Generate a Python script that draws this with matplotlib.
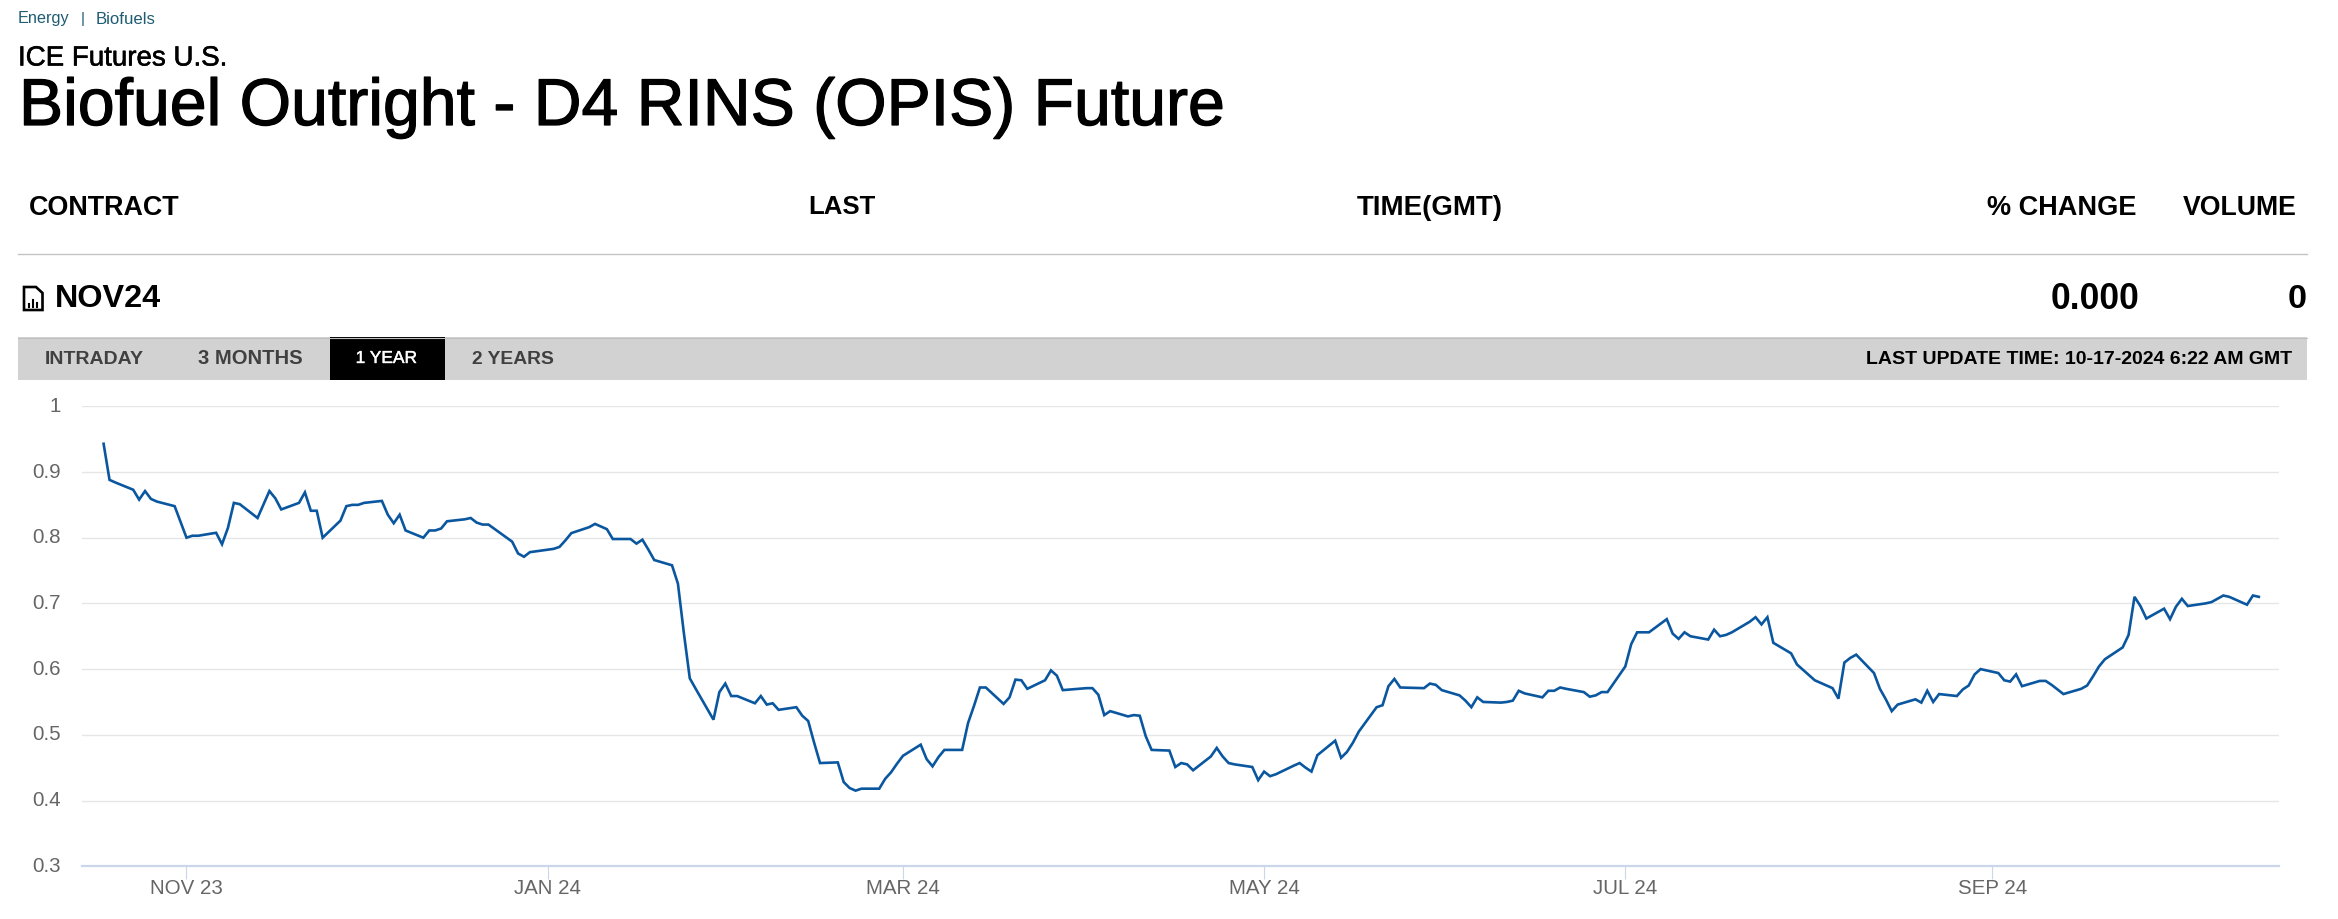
import matplotlib
matplotlib.use("Agg")
import matplotlib.pyplot as plt
import matplotlib.dates as mdates
import matplotlib.patheffects as pe
import matplotlib.transforms as mtrans
import pandas as pd
from matplotlib.patches import Rectangle, Polygon
from matplotlib.lines import Line2D

W, H = 2338, 919
START = "2023-10-18"
days = [0,1,2,5,6,7,8,9,12,13,14,15,16,19,20,21,22,23,26,28,29,30,33,34,35,36,37,40,41,42,43,44,47,48,49,50,51,54,55,56,57,58,61,
        62,63,64,65,69,70,71,72,76,77,78,79,82,83,84,85,86,89,90,91,92,93,96,97,98,99,100,103,104,105,106,107,110,111,112,113,114,117,118,119,120,121,
        124,125,126,127,128,131,132,133,134,135,138,139,140,141,142,145,146,147,148,149,152,153,154,155,156,159,160,161,162,166,167,168,169,170,173,174,175,176,177,180,181,182,183,184,
        187,188,189,190,191,194,195,196,197,198,201,202,203,204,205,208,209,210,211,212,215,216,217,218,219,223,224,225,226,229,230,231,232,233,236,237,238,239,240,243,244,245,246,247,
        250,251,252,253,254,257,258,259,260,261,264,265,266,267,268,271,272,273,274,275,278,279,280,281,282,285,286,287,288,289,292,293,294,295,296,299,300,301,302,303,306,307,308,309,310,
        313,314,315,316,317,320,321,322,323,324,327,328,329,330,331,334,335,336,337,338,341,342,343,344,345,348,349,350,351,352,355,356,357,358,359,362,363,364]
prices = [.943,.888,.884,.873,.858,.871,.859,.855,.848,.824,.800,.803,.803,.8075,.790,.815,.853,.851,.830,.871,.860,.843,.853,.869,.841,.841,.800,.826,.848,.850,.850,.853,.856,.835,.822,.835,.811,.800,.811,.811,.814,.825,.828,
          .830,.823,.820,.820,.794,.776,.771,.778,.783,.786,.796,.807,.816,.821,.817,.813,.798,.798,.791,.797,.782,.766,.758,.730,.655,.586,.570,.523,.565,.578,.559,.559,.548,.559,.546,.548,.538,.542,.529,.521,.488,.457,
          .458,.428,.419,.415,.418,.418,.433,.443,.456,.468,.485,.463,.452,.466,.477,.477,.518,.544,.572,.572,.547,.557,.584,.583,.570,.583,.598,.590,.568,.571,.571,.561,.530,.536,.528,.530,.529,.498,.477,.476,.451,.457,.455,.446,
          .467,.480,.467,.457,.455,.451,.431,.444,.437,.440,.453,.457,.450,.444,.469,.491,.465,.474,.488,.505,.542,.545,.574,.585,.572,.571,.578,.576,.568,.560,.552,.542,.557,.550,.549,.550,.552,.567,.563,.557,.567,.567,.572,.570,
          .565,.558,.560,.565,.565,.604,.638,.656,.656,.656,.676,.654,.646,.656,.650,.645,.660,.650,.652,.656,.672,.679,.668,.679,.640,.624,.607,.599,.591,.583,.571,.555,.610,.617,.622,.594,.570,.554,.536,.546,.554,.549,.567,.550,.562,
          .559,.569,.575,.592,.600,.594,.583,.581,.592,.574,.582,.582,.576,.569,.562,.570,.575,.589,.604,.615,.633,.652,.710,.696,.677,.692,.676,.695,.707,.696,.700,.702,.707,.712,.710,.698,.712,.710]
y_ticks = [0.3,0.4,0.5,0.6,0.7,0.8,0.9,1.0]
y_tick_labels = ["0.3","0.4","0.5","0.6","0.7","0.8","0.9","1"]
x_tick_dates = ["2023-11-01","2024-01-01","2024-03-01","2024-05-01","2024-07-01","2024-09-01"]
x_tick_labels = ["NOV 23","JAN 24","MAR 24","MAY 24","JUL 24","SEP 24"]

plt.rcParams["font.family"] = ["Liberation Sans", "DejaVu Sans"]
fig = plt.figure(figsize=(W/100, H/100), dpi=100, facecolor="white")
fx = lambda x: x / W
fy = lambda y: 1 - y / H

L, R, T, B = 82, 2279, 406.3, 866.2
ax = fig.add_axes([fx(L), fy(B), (R-L)/W, (B-T)/H])
dates = pd.Timestamp(START) + pd.to_timedelta(days, unit="D")
x_num = mdates.date2num(dates)
ax.plot(x_num, prices, color="#0a57a0", lw=1.9, solid_joinstyle="miter", clip_on=False, zorder=3)
ppd = 5.921
x0 = mdates.date2num(pd.Timestamp(START))
ax.set_xlim(x0 + (L-103.6)/ppd, x0 + (R-103.6)/ppd)
ax.set_ylim(0.3, 1.0)
ax.set_yticks(y_ticks, y_tick_labels)
ax.set_xticks(mdates.date2num(pd.to_datetime(x_tick_dates)), x_tick_labels)
for s in ["top","left","right"]:
    ax.spines[s].set_visible(False)
ax.spines["bottom"].set_color("#ccd6eb")
ax.spines["bottom"].set_linewidth(1.6)
ax.grid(axis="y", color="#e6e6e6", lw=1.0)
ax.set_axisbelow(True)
ax.tick_params(axis="y", length=0, pad=15, labelsize=14.8, labelcolor="#666666")
ax.tick_params(axis="x", length=9, width=0.8, color="#ccd6eb", pad=0, labelsize=14.8, labelcolor="#666666")
lift = mtrans.Affine2D().translate(0, 2)
for t in ax.get_yticklabels():
    t.set_transform(t.get_transform() + lift)

fig.canvas.draw()
rend = fig.canvas.get_renderer()

def fit(s, x1, x2, yc, color="black", weight="normal", base=14, stroke=0):
    t = fig.text(fx(x1), fy(yc), s, color=color, weight=weight, fontsize=base, ha="left", va="center_baseline")
    for _ in range(3):
        w = t.get_window_extent(rend).width
        t.set_fontsize(t.get_fontsize() * (x2 - x1) / w)
    if stroke:
        t.set_path_effects([pe.withStroke(linewidth=stroke, foreground=color)])
    return t

TEAL = "#1f5c73"
fit("Energy", 18, 69, 17.5, color=TEAL)
fig.text(fx(81), fy(17.5), "|", color=TEAL, fontsize=11, ha="left", va="center_baseline")
fit("Biofuels", 96, 155.6, 17.5, color=TEAL)
fit("ICE Futures U.S.", 18, 227, 55.5, stroke=0.4)
fit("Biofuel Outright - D4 RINS (OPIS) Future", 19, 1224, 101, stroke=0.9)

fit("CONTRACT", 28.5, 179, 205, weight="bold")
fit("LAST", 808, 875, 205, weight="bold")
fit("TIME(GMT)", 1357, 1503, 205, weight="bold")
fit("% CHANGE", 1987, 2136, 205, weight="bold")
fit("VOLUME", 2183, 2297, 205, weight="bold")
fit("NOV24", 55, 161, 295.5, weight="bold")
fit("0.000", 2051, 2140, 295.5, weight="bold")
fit("0", 2288, 2307, 295.5, weight="bold")

fig.add_artist(Line2D([fx(18), fx(2307)], [fy(254.3), fy(254.3)], color="#c4c4c4", lw=1.0))
fig.add_artist(Rectangle((fx(18), fy(380)), (2307-18)/W, 43/H, color="#d2d2d2", lw=0, transform=fig.transFigure))
fig.add_artist(Line2D([fx(18), fx(2307)], [fy(337.6), fy(337.6)], color="#c0c0c0", lw=0.8))
fig.add_artist(Rectangle((fx(330), fy(380)), 115/W, 42.5/H, color="black", lw=0, transform=fig.transFigure))

fit("INTRADAY", 45, 144, 357, color="#404040", weight="bold")
fit("3 MONTHS", 198, 302.5, 357, color="#404040", weight="bold")
fit("1 YEAR", 355.6, 417, 357, color="white", stroke=0.3)
fit("2 YEARS", 472, 553.6, 357, color="#404040", weight="bold")
fit("LAST UPDATE TIME: 10-17-2024 6:22 AM GMT", 1866, 2291.6, 357, weight="bold")

# document icon next to the contract name
icon = [(24,287),(36,287),(42.5,293),(42.5,310),(24,310)]
fig.add_artist(Polygon([(fx(a), fy(b)) for a, b in icon], closed=True, fill=False, ec="black", lw=1.9, transform=fig.transFigure))
for bx, by in [(29,304),(33.2,300),(37.4,303)]:
    fig.add_artist(Line2D([fx(bx), fx(bx)], [fy(307), fy(by)], color="black", lw=1.5))

fig.savefig("out.png", dpi=100, facecolor="white")
